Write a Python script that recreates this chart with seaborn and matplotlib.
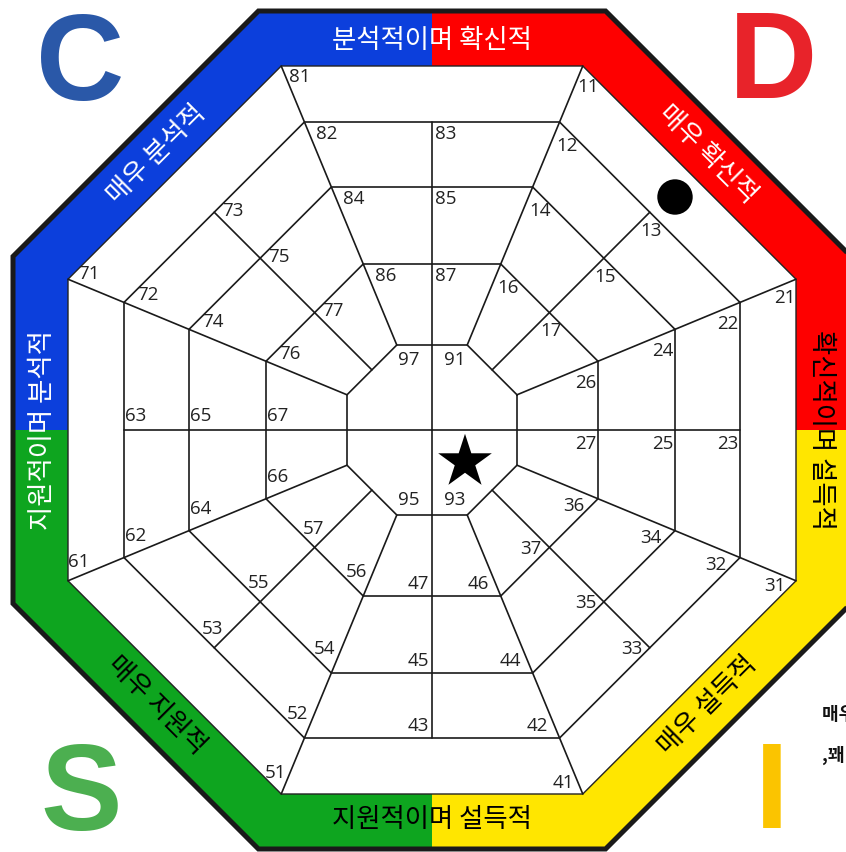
import numpy as np
import pandas as pd
import matplotlib.pyplot as plt
import seaborn as sns
from matplotlib.patches import Polygon

# web rings (apothem, px from the centre)
ring_apothems = [85, 166, 243, 308]
white_apothem = 364
frame_apothem = 419

# the eight sectors: first digit of their cells and the direction of their axis
sector_digits = [1, 2, 3, 4, 5, 6, 7, 8]
sector_angles = [45, 0, -45, -90, -135, 180, 135, 90]

# the four cells of the centre octagon
inner_numbers = [91, 93, 95, 97]
inner_angles = [45, -45, -135, 135]

# coloured frame, one colour per quadrant
quadrant_letters = ["D", "I", "S", "C"]
quadrant_angles = [45, -45, -135, 135]
band_colors = ["#fe0000", "#ffe600", "#0ea51f", "#0c3fdc"]
letter_colors = ["#e8232a", "#fbc400", "#4caf50", "#2a58a8"]

band_texts = ["분석적이며 확신적", "매우 확신적", "확신적이며 설득적", "매우 설득적",
              "지원적이며 설득적", "매우 지원적", "지원적이며 분석적", "매우 분석적"]
band_text_angles = [90, 45, 0, -45, -90, -135, 180, 135]
band_text_colors = ["white", "white", "black", "black", "black", "black", "white", "white"]

side_notes = ["매우 확신적", ",꽤 확신적"]

# markers
star_x, star_y = [33], [-32]
dot_x, dot_y = [243], [233]

C22 = np.cos(np.radians(22.5))


def octagon(a):
    ang = np.radians(22.5 + 45 * np.arange(8))
    r = a / C22
    return np.column_stack([r * np.cos(ang), r * np.sin(ang)])


def polar(r, deg):
    t = np.radians(deg)
    return np.array([r * np.cos(t), r * np.sin(t)])


def quadrant_poly(a, deg):
    # part of the octagon between the axes deg-45 and deg+45
    return np.array([[0, 0], polar(a, deg - 45), polar(a / C22, deg - 22.5),
                     polar(a / C22, deg + 22.5), polar(a, deg + 45)])


sns.set_theme(style="white")
plt.rcParams['font.family'] = ['Open Sans', 'Noto Sans CJK KR', 'DejaVu Sans']

fig = plt.figure(figsize=(8.46, 8.52), dpi=100)
ax = fig.add_axes([0, 0, 1, 1])
ax.set_xlim(-432, 414)
ax.set_ylim(-422, 430)
ax.set_aspect("equal")
ax.axis("off")

# frame
for ang, col in zip(quadrant_angles, band_colors):
    ax.add_patch(Polygon(quadrant_poly(frame_apothem, ang), closed=True, fc=col, ec="none", zorder=1))
ax.add_patch(Polygon(octagon(frame_apothem), closed=True, fc="none", ec="#1a1a1a", lw=3.6, zorder=2))
ax.add_patch(Polygon(octagon(white_apothem), closed=True, fc="white", ec="#222222", lw=1.0, zorder=2))

lw = 1.2
# rings
for a in ring_apothems:
    pts = octagon(a)
    pts = np.vstack([pts, pts[:1]])
    ax.plot(pts[:, 0], pts[:, 1], color="#1a1a1a", lw=lw, zorder=3)

# rays through the octagon corners
for k in range(8):
    d = 22.5 + 45 * k
    p0 = polar(ring_apothems[0] / C22, d)
    p1 = polar(white_apothem / C22, d)
    ax.plot([p0[0], p1[0]], [p0[1], p1[1]], color="#1a1a1a", lw=lw, zorder=3)

# sector axes
for d in sector_angles:
    start = 0 if d % 90 == 0 else ring_apothems[0]
    p0 = polar(start, d)
    p1 = polar(ring_apothems[-1], d)
    ax.plot([p0[0], p1[0]], [p0[1], p1[1]], color="#1a1a1a", lw=lw, zorder=3)

# cell numbers
num_kw = dict(fontsize=13.5, ha="center", va="center", color="#222222", zorder=4)
for digit, d in zip(sector_digits, sector_angles):
    u = polar(1, d)
    t = polar(1, d + 90)
    corner = polar(white_apothem / C22, d + 22.5)
    p = corner - 11 * u - 19 * t
    ax.text(p[0], p[1], f"{digit}1", **num_kw)
    for j, a in enumerate(ring_apothems[::-1][:3]):
        c_ccw = polar(a / C22, d + 22.5)
        p = c_ccw - 12 * u - 22 * t
        ax.text(p[0], p[1], f"{digit}{2 + 2 * j}", **num_kw)
        c_ax = polar(a, d)
        p = c_ax - 12 * u - 14 * t
        ax.text(p[0], p[1], f"{digit}{3 + 2 * j}", **num_kw)

for n, d in zip(inner_numbers, inner_angles):
    v = polar(1, d)
    ax.text(23 * np.sign(v[0]), 70 * np.sign(v[1]), str(n), **num_kw)

# frame texts
band_mid = (white_apothem + frame_apothem) / 2 - 2
for txt, d, col in zip(band_texts, band_text_angles, band_text_colors):
    p = polar(band_mid, d)
    rot = d - 90 if np.sin(np.radians(d)) >= -1e-9 else d + 90
    ax.text(p[0], p[1], txt, rotation=rot, rotation_mode="anchor", ha="center", va="center",
            fontsize=19, color=col, family=['Noto Sans CJK KR', 'DejaVu Sans'], zorder=5)

# corner letters
letter_pos = [(341, 332), (340, -398), (-351, -400), (-352, 330)]
for L, col, (x, y) in zip(quadrant_letters, letter_colors, letter_pos):
    ax.text(x, y, L, fontsize=88, fontweight="bold", color=col, ha="center", va="baseline",
            family="Liberation Sans", zorder=5)

# note cut at the right edge
for i, s in enumerate(side_notes):
    ax.text(390, -285 - 40 * i, s, fontsize=13, fontweight="bold", color="#111111",
            ha="left", va="center", family=['Noto Sans CJK KR', 'DejaVu Sans'], zorder=5)

# markers
sns.scatterplot(x=star_x, y=star_y, marker="*", s=1650, color="black", edgecolor="none", ax=ax, zorder=6)
sns.scatterplot(x=dot_x, y=dot_y, marker="o", s=650, color="black", edgecolor="none", ax=ax, zorder=6)

fig.savefig("out.png", dpi=100, facecolor="white")
